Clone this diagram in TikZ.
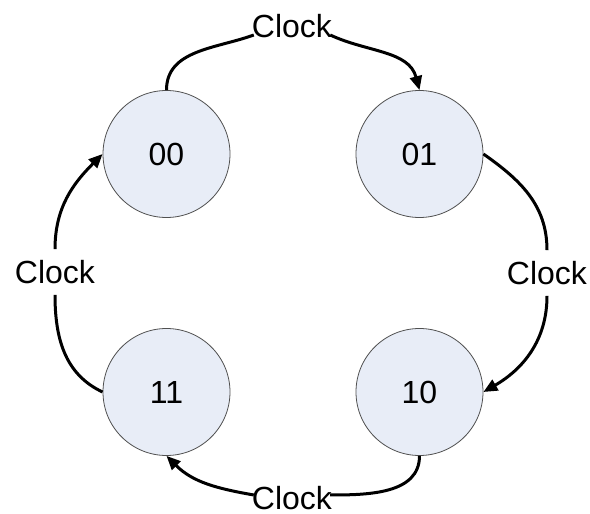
\documentclass[tikz,border=0pt]{standalone}
\usepackage{fontspec}
\setmainfont{Liberation Sans}
\usetikzlibrary{arrows.meta}
\definecolor{statefill}{RGB}{232,237,247}
\definecolor{stateline}{RGB}{80,80,80}
\begin{document}
\begin{tikzpicture}[x=1pt,y=1pt,
  state/.style={circle,draw=stateline,line width=0.8pt,fill=statefill,minimum size=127pt,inner sep=0pt,font=\fontsize{32}{38}\selectfont},
  lab/.style={inner sep=1pt,font=\fontsize{32}{38}\selectfont},
  edge/.style={line width=3pt},
  arr/.style={line width=3pt,-{Triangle[length=14pt,width=12pt]}}]
\useasboundingbox (0,0) rectangle (590,514);
\node[state] (s00) at (166.5,360) {00};
\node[state] (s01) at (419.5,360) {01};
\node[state] (s11) at (166.5,122) {11};
\node[state] (s10) at (419.5,122) {10};
\node[lab] (ltop) at (292,488) {Clock};
\node[lab] (lright) at (547,241) {Clock};
\node[lab] (lleft) at (55,242) {Clock};
\node[lab] (lbot) at (292,16) {Clock};
% top
\draw[edge] (s00.north) to[out=90,in=200] ([yshift=-9pt,xshift=3pt]ltop.west);
\draw[arr] ([yshift=-9pt,xshift=-3pt]ltop.east) to[out=-25,in=105] (s01.north);
% right
\draw[edge] (s01.east) to[out=-35,in=90] ([yshift=10pt]lright.north);
\draw[arr] ([yshift=-10pt]lright.south) to[out=-90,in=30] (s10.east);
% bottom
\draw[edge] (s10.south) to[out=-90,in=0] ([yshift=3pt,xshift=-3pt]lbot.east);
\draw[arr] ([yshift=3pt,xshift=3pt]lbot.west) to[out=170,in=-45] (s11.south);
% left
\draw[edge] (s11.west) to[out=155,in=-90] ([yshift=-10pt]lleft.south);
\draw[arr] ([yshift=10pt]lleft.north) to[out=90,in=225] (s00.west);
\end{tikzpicture}
\end{document}
